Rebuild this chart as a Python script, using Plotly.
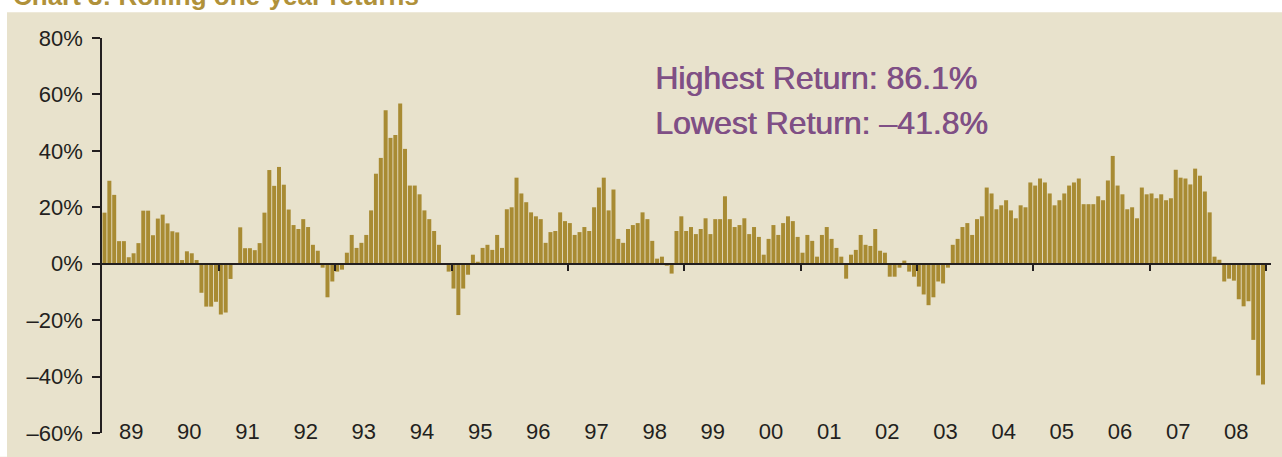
import plotly.graph_objects as go

# ---- data: rolling one-year returns (%), monthly, Jan 1989 - Dec 2008 ----
years = [str(y)[-2:] for y in range(1989, 2009)]
r1989 = [18.1, 29.4, 24.4, 8.0, 8.0, 2.3, 3.7, 7.3, 18.8, 18.8, 10.1, 16.0]
r1990 = [17.4, 14.3, 11.5, 11.1, 1.3, 4.4, 3.7, 1.3, -10.3, -15.2, -15.2, -13.5]
r1991 = [-18.0, -17.3, -5.4, 0.0, 12.9, 5.5, 5.5, 4.8, 7.3, 18.1, 33.2, 27.6]
r1992 = [34.3, 28.0, 19.2, 13.7, 12.3, 15.8, 13.0, 6.7, 4.6, -1.4, -11.9, -6.3]
r1993 = [-2.8, -2.1, 3.9, 10.2, 5.6, 7.4, 10.2, 18.9, 31.9, 37.5, 54.4, 44.6]
r1994 = [45.6, 56.8, 40.7, 27.7, 27.7, 24.6, 18.9, 15.8, 11.6, 6.7, 0.0, -2.8]
r1995 = [-8.8, -18.2, -8.8, -3.9, 3.2, 0.7, 5.6, 6.7, 4.9, 10.2, 5.6, 19.3]
r1996 = [20.0, 30.5, 24.9, 21.8, 18.2, 16.8, 15.8, 7.4, 11.2, 11.6, 18.2, 15.1]
r1997 = [14.4, 10.2, 11.2, 13.0, 11.6, 20.0, 27.0, 30.5, 18.9, 26.3, 8.8, 7.4]
r1998 = [12.3, 13.7, 14.4, 18.2, 15.8, 8.1, 1.8, 2.5, -0.7, -3.5, 11.6, 16.8]
r1999 = [11.6, 13.0, 10.5, 12.3, 16.1, 10.5, 15.8, 15.8, 23.9, 15.8, 13.0, 13.7]
r2000 = [16.1, 10.5, 13.0, 9.5, 3.2, 8.8, 13.7, 10.2, 14.4, 16.8, 15.1, 9.5]
r2001 = [3.9, 10.2, 8.1, 2.5, 10.2, 13.0, 8.8, 5.6, 2.5, -5.3, 3.2, 4.9]
r2002 = [10.2, 6.7, 6.3, 12.3, 4.6, 3.9, -4.6, -4.6, -1.4, 1.1, -2.8, -4.6]
r2003 = [-8.1, -10.9, -14.7, -11.9, -6.3, -7.0, -1.4, 6.7, 8.8, 13.0, 14.4, 10.2]
r2004 = [15.8, 16.8, 27.0, 24.9, 19.3, 20.7, 22.5, 18.9, 16.1, 20.7, 20.0, 28.8]
r2005 = [27.7, 30.2, 28.8, 24.9, 20.7, 22.5, 24.9, 27.7, 28.8, 30.2, 21.1, 21.1]
r2006 = [21.1, 23.9, 22.5, 29.5, 38.2, 27.7, 24.6, 19.3, 20.0, 16.1, 27.0, 24.6]
r2007 = [24.9, 23.2, 24.6, 22.5, 23.2, 33.3, 30.5, 30.2, 28.1, 33.7, 31.2, 25.6]
r2008 = [18.2, 2.5, 1.4, -6.3, -5.3, -6.0, -12.6, -15.1, -13.3, -27.0, -39.6, -42.8]

y_tick_vals = [-60, -40, -20, 0, 20, 40, 60, 80]
y_tick_text = ["\u201360%", "\u201340%", "\u201320%", "0%", "20%", "40%", "60%", "80%"]

returns = (r1989 + r1990 + r1991 + r1992 + r1993 + r1994 + r1995 + r1996 + r1997 + r1998
           + r1999 + r2000 + r2001 + r2002 + r2003 + r2004 + r2005 + r2006 + r2007 + r2008)
month_idx = list(range(len(returns)))

year_centers = [12 * k + 5.5 for k in range(len(years))]
boundaries = [24 * k - 0.4 for k in range(1, 11)]

BG = "#e8e2cc"
GOLD = "#a88b33"
DARK = "#231f20"
PURPLE = "#7f4f85"
FONT = "Liberation Sans, Arial, Helvetica, sans-serif"

W, H = 1282, 457
ML, MR, MT, MB = 102, 11, 38, 19
pw = W - ML - MR
ph = H - MT - MB
x0 = -0.516
x1 = x0 + pw / 4.8473

fig = go.Figure()
fig.add_bar(x=month_idx, y=returns, marker=dict(color=GOLD, line=dict(width=0)),
            xaxis="x", yaxis="y", showlegend=False, hoverinfo="x+y")
fig.add_scatter(x=[], y=[], xaxis="x2", yaxis="y", showlegend=False)


def px_x(p):
    return (p - ML) / pw


def px_y(p):
    return (MT + ph - p) / ph


tick_font = dict(size=22, color=DARK, family=FONT)
note_font = dict(size=32, color=PURPLE, family=FONT, shadow="0.7px 0 0 #7f4f85")

fig.update_layout(
    width=W, height=H, autosize=False,
    margin=dict(l=ML, r=MR, t=MT, b=MB, pad=0),
    paper_bgcolor=BG, plot_bgcolor=BG,
    font=dict(family=FONT, color=DARK, size=22),
    bargap=0.175,
    xaxis=dict(range=[x0, x1], anchor="free", position=px_y(421),
               showline=False, ticks="", tickvals=year_centers, ticktext=years,
               showgrid=False, zeroline=False, tickfont=tick_font),
    xaxis2=dict(range=[x0, x1], overlaying="x", anchor="free", position=60 / 140,
                showline=True, linecolor=DARK, linewidth=2,
                ticks="outside", ticklen=6, tickwidth=2, tickcolor=DARK,
                tickvals=boundaries, showticklabels=False,
                showgrid=False, zeroline=False),
    yaxis=dict(range=[-60, 80], anchor="x", tickvals=y_tick_vals, ticktext=y_tick_text,
               showline=True, linecolor=DARK, linewidth=1.5,
               ticks="outside", ticklen=8, tickwidth=1.5, tickcolor=DARK,
               ticklabelstandoff=5,
               showgrid=False, zeroline=False, tickfont=tick_font),
    shapes=[
        dict(type="rect", xref="paper", yref="paper", x0=px_x(-5), x1=px_x(W + 5),
             y0=px_y(12), y1=px_y(-5), fillcolor="white", line=dict(width=0), layer="below"),
        dict(type="rect", xref="paper", yref="paper", x0=px_x(-5), x1=px_x(7),
             y0=px_y(H + 5), y1=px_y(-5), fillcolor="white", line=dict(width=0), layer="below"),
    ],
    annotations=[
        dict(text="<b>Chart 3: Rolling one-year returns</b>", xref="paper", yref="paper",
             x=px_x(11), y=px_y(-4.5), xanchor="left", yanchor="middle", showarrow=False,
             font=dict(size=26, color="#b0913a", family=FONT)),
        dict(text="Highest Return: 86.1%", xref="paper", yref="paper",
             x=px_x(653), y=px_y(79), xanchor="left", yanchor="middle", showarrow=False,
             font=note_font),
        dict(text="Lowest Return: \u201341.8%", xref="paper", yref="paper",
             x=px_x(653), y=px_y(124), xanchor="left", yanchor="middle", showarrow=False,
             font=note_font),
    ],
)

fig.write_html("out.html", config={"displayModeBar": False},
               post_script="document.body.style.margin='0';document.body.style.overflow='hidden';")
